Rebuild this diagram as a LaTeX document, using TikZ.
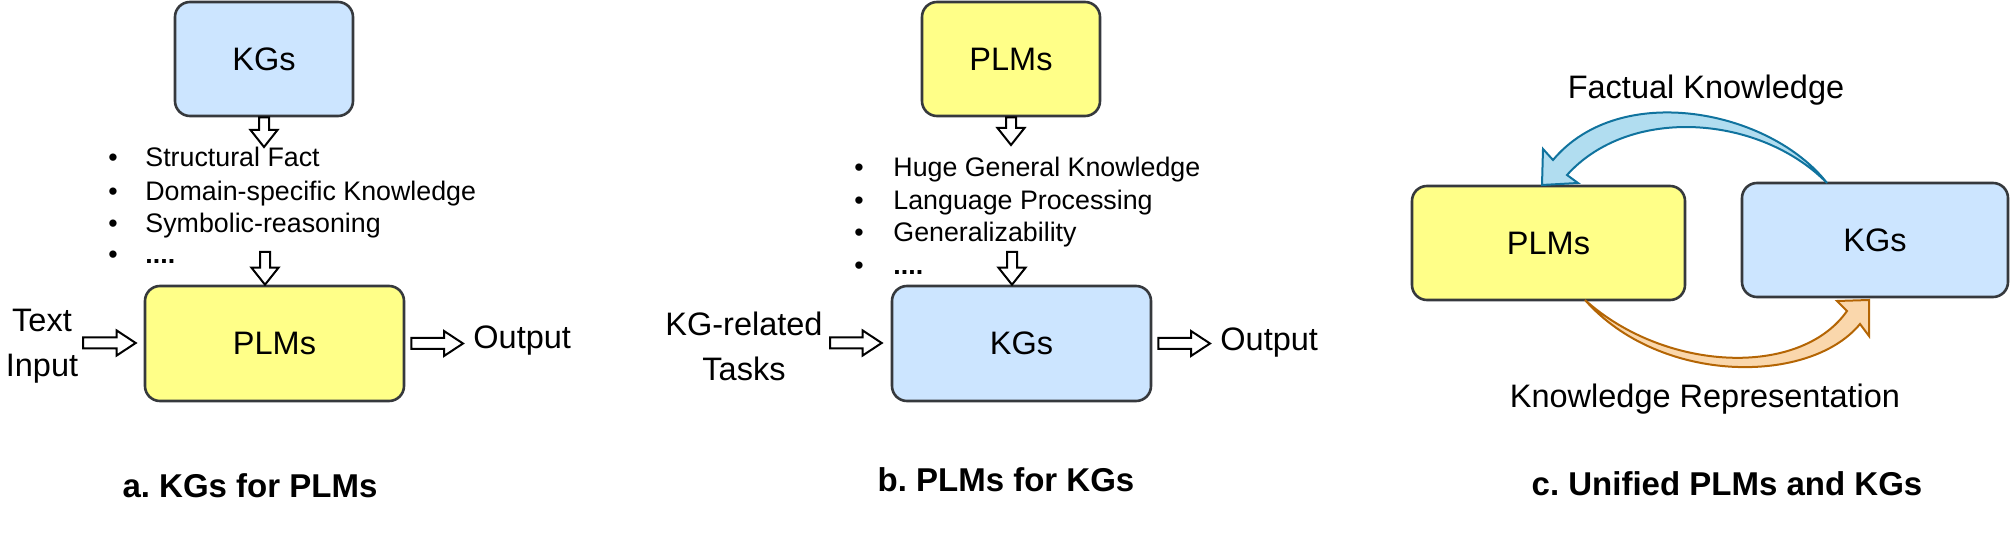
\documentclass[tikz,border=0pt]{standalone}
\usepackage{fontspec}
\setmainfont{Liberation Sans}
\usetikzlibrary{calc}
\frenchspacing
\definecolor{kgfill}{HTML}{CCE5FF}
\definecolor{plmfill}{HTML}{FFFF88}
\definecolor{boxline}{HTML}{36393D}
\definecolor{bluefill}{HTML}{B1DDF0}
\definecolor{bluestroke}{HTML}{10739E}
\definecolor{orfill}{HTML}{FAD7AC}
\definecolor{orstroke}{HTML}{B46504}
\tikzset{
  dbox/.style={draw=boxline, line width=1.3pt, rounded corners=7.5pt, inner sep=0pt, font=\fontsize{16.25}{19.5}\selectfont},
  kgbox/.style={dbox, fill=kgfill},
  plmbox/.style={dbox, fill=plmfill},
  lbltext/.style={inner sep=0pt, font=\fontsize{16.25}{22.5}\selectfont},
  listitem/.style={inner sep=0pt, anchor=base west, font=\fontsize{13.4}{16}\selectfont},
  listbul/.style={inner sep=0pt, anchor=base, font=\fontsize{13.4}{16}\selectfont},
  captext/.style={inner sep=0pt, anchor=base, font=\fontsize{16.5}{20}\selectfont\bfseries},
  blockarr/.style={draw=black, fill=white, line width=1pt, line join=miter},
  curvearr/.style={line width=1pt, line join=miter},
}
\newcommand\rblockarrow[2]{\draw[blockarr] let \p1=#1, \p2=#2 in
  (\x1,{\y1+2.75pt}) -- ({\x2-9.5pt},{\y1+2.75pt}) -- ({\x2-9.5pt},{\y1+6.25pt}) -- (\x2,\y1)
  -- ({\x2-9.5pt},{\y1-6.25pt}) -- ({\x2-9.5pt},{\y1-2.75pt}) -- (\x1,{\y1-2.75pt}) -- cycle;}
\newcommand\dblockarrow[2]{\draw[blockarr] let \p1=#1, \p2=#2 in
  ({\x1-2.5pt},\y1) -- ({\x1-2.5pt},{\y2+8.5pt}) -- ({\x1-6.75pt},{\y2+8.5pt}) -- (\x1,\y2)
  -- ({\x1+6.75pt},{\y2+8.5pt}) -- ({\x1+2.5pt},{\y2+8.5pt}) -- ({\x1+2.5pt},\y1) -- cycle;}
\begin{document}
\begin{tikzpicture}[x=0.5pt, y=-0.5pt]
\useasboundingbox (0,0) rectangle (2010,534);

% ---------- panel a ----------
\node[kgbox, minimum width=89pt, minimum height=57pt] (kga) at (264,59) {KGs};
\node[plmbox, minimum width=129.5pt, minimum height=57.5pt] (plma) at (274.5,343.5) {PLMs};
\node[listbul] (ba1) at (113,167) {•};
\node[listbul] (ba2) at (113,201) {•};
\node[listbul] (ba3) at (113,233) {•};
\node[listbul] (ba4) at (113,264) {•};
\node[listitem] (ia1) at (145,167) {Structural Fact};
\node[listitem] (ia2) at (145,201) {Domain-specific Knowledge};
\node[listitem] (ia3) at (145,233) {Symbolic-reasoning};
\node[listitem] (ia4) at (145,264) {\bfseries ....};
\node[lbltext, align=center] (tin) at (42,346) {Text\\Input};
\node[lbltext, anchor=base west] (outa) at (473,349) {Output};
\coordinate (a1e) at (265,147);
\coordinate (a2s) at (265,252);
\coordinate (ains) at (83,343);
\coordinate (aoute) at (463,343);
\dblockarrow{(kga.south)}{(a1e)}
\dblockarrow{(a2s)}{(plma.north)}
\rblockarrow{(ains)}{([xshift=-4pt]plma.west)}
\rblockarrow{([xshift=3pt]plma.east)}{(aoute)}
\node[captext] (capa) at (250,497) {a. KGs for PLMs};

% ---------- panel b ----------
\node[plmbox, minimum width=89pt, minimum height=57pt] (plmb) at (1011,59) {PLMs};
\node[kgbox, minimum width=129.5pt, minimum height=57.5pt] (kgb) at (1021.5,343.5) {KGs};
\node[listbul] (bb1) at (859,177) {•};
\node[listbul] (bb2) at (859,210) {•};
\node[listbul] (bb3) at (859,242) {•};
\node[listbul] (bb4) at (859,275) {•};
\node[listitem] (ib1) at (893,177) {Huge General Knowledge};
\node[listitem] (ib2) at (893,210) {Language Processing};
\node[listitem] (ib3) at (893,242) {Generalizability};
\node[listitem] (ib4) at (893,275) {\bfseries ....};
\node[lbltext, align=center] (kgt) at (744,346) {KG-related\\Tasks};
\node[lbltext, anchor=base west] (outb) at (1220,351) {Output};
\coordinate (b1e) at (1012,145);
\coordinate (b2s) at (1012,252);
\coordinate (bins) at (830,343);
\coordinate (boute) at (1210,343);
\dblockarrow{(plmb.south)}{(b1e)}
\dblockarrow{(b2s)}{(kgb.north)}
\rblockarrow{(bins)}{([xshift=-4.5pt]kgb.west)}
\rblockarrow{([xshift=3pt]kgb.east)}{(boute)}
\node[captext] (capb) at (1006,492) {b. PLMs for KGs};

% ---------- panel c ----------
\node[plmbox, minimum width=136.5pt, minimum height=57pt] (plmc) at (1548.5,243) {PLMs};
\node[kgbox, minimum width=133pt, minimum height=57pt] (kgc) at (1875,240) {KGs};
\coordinate (fkS) at (1827,183);
\coordinate (krS) at (1585,300);
\filldraw[curvearr, fill=bluefill, draw=bluestroke]
  (fkS) .. controls (1770,110) and (1620,80) .. (1553,160)
  -- (1543,149) -- (1542,185) -- (1578,183) -- (1567,175)
  .. controls (1630,105) and (1760,115) .. (fkS) -- cycle;
\filldraw[curvearr, fill=orfill, draw=orstroke]
  (krS) .. controls (1660,385) and (1810,385) .. (1860,324)
  -- (1869,336) -- (1869,300) -- (1837,301) -- (1847,311)
  .. controls (1800,378) and (1665,372) .. (krS) -- cycle;
\node[lbltext, anchor=base] (fk) at (1706,99) {Factual Knowledge};
\node[lbltext, anchor=base] (kr) at (1705,408) {Knowledge Representation};
\node[captext] (capc) at (1727,495) {c. Unified PLMs and KGs};
\end{tikzpicture}
\end{document}
